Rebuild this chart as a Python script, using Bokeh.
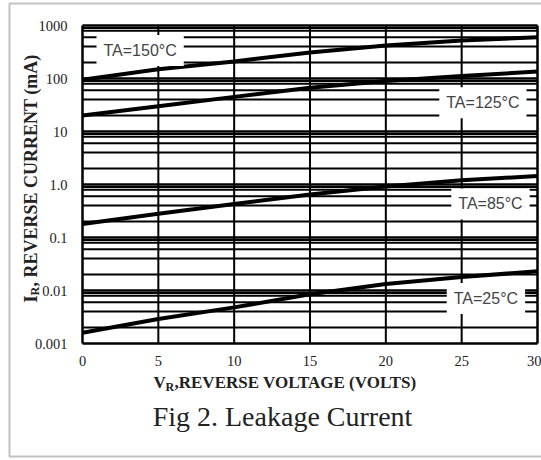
import math
from bokeh.plotting import figure
from bokeh.models import FixedTicker, Label, Range1d, BoxAnnotation
from bokeh.embed import file_html
from bokeh.resources import INLINE

# ---- data ----
volts = [0, 5, 10, 15, 20, 25, 30]
i_150 = [95, 150, 210, 310, 420, 520, 600]
i_125 = [20, 30, 45, 67, 90, 112, 135]
i_85 = [0.18, 0.28, 0.43, 0.65, 0.92, 1.2, 1.45]
i_25 = [0.0016, 0.0029, 0.0048, 0.0085, 0.0133, 0.018, 0.023]

x_ticks = [0, 5, 10, 15, 20, 25, 30]
y_ticks = [0.001, 0.01, 0.1, 1, 10, 100, 1000]
y_tick_labels = ["0.001", "0.01", "0.1", "1.0", "10", "100", "1000"]
minor_mult = [2, 4, 6, 8, 9]

curve_labels = ["TA=150°C", "TA=125°C", "TA=85°C", "TA=25°C"]
label_v = [3.8, 26.4, 26.9, 26.6]
label_i = [337, 35, 0.43, 0.0071]

# ---- layout (pixels) ----
W, H = 541, 460
CH_L, CH_R, CH_T, CH_B = 82, 537, 25, 343

x0, x1 = x_ticks[0], x_ticks[-1]
ppu = (CH_R - CH_L) / (x1 - x0)
ly0, ly1 = math.log10(y_ticks[0]), math.log10(y_ticks[-1])
ppd = (CH_B - CH_T) / (ly1 - ly0)
x_range = Range1d(x0 - CH_L / ppu, x1 + (W - CH_R) / ppu)
y_range = Range1d(10 ** (ly0 - (H - CH_B) / ppd), 10 ** (ly1 + CH_T / ppd))

minor_ticks = [d * m for d in y_ticks[:-1] for m in minor_mult]

p = figure(width=W, height=H, x_range=x_range, y_range=y_range,
           y_axis_type="log", output_backend="svg", toolbar_location=None,
           min_border=0)
p.outline_line_color = None
p.xgrid.visible = False
p.ygrid.visible = False

# grid lines drawn from the tick arrays
p.segment(x0=x0, x1=x1, y0=minor_ticks, y1=minor_ticks,
          line_color="black", line_width=2)
p.segment(x0=x0, x1=x1, y0=y_ticks, y1=y_ticks,
          line_color="black", line_width=2.5)
v_width = [2.5 if v in (x0, x1) else 2 for v in x_ticks]
p.segment(x0=x_ticks, x1=x_ticks, y0=y_ticks[0], y1=y_ticks[-1],
          line_color="black", line_width=v_width)

# axes placed at the chart edges
for ax in (p.xaxis, p.yaxis):
    ax.axis_line_color = None
    ax.major_tick_line_color = None
    ax.minor_tick_line_color = None
    ax.major_label_text_font = "Liberation Serif"
    ax.major_label_text_font_size = "14.5px"
    ax.major_label_text_color = "#222222"
p.xaxis.fixed_location = y_ticks[0]
p.xaxis.ticker = FixedTicker(ticks=x_ticks)
p.xaxis.major_label_standoff = 6
p.yaxis.fixed_location = x0
p.yaxis.ticker = FixedTicker(ticks=y_ticks)
p.yaxis.major_label_overrides = {t: s for t, s in zip(y_ticks, y_tick_labels)}
p.yaxis.major_label_standoff = 9

# curves
for series in (i_150, i_125, i_85, i_25):
    p.line(volts, series, line_width=4, line_color="black")

# curve labels
for txt, vx, iy in zip(curve_labels, label_v, label_i):
    p.add_layout(Label(x=vx, y=iy, text=txt, text_align="center",
                       text_baseline="middle", text_font="Liberation Sans",
                       text_font_size="16px", text_color="#444444",
                       background_fill_color="white", padding=7))

serif = "Liberation Serif"
def sl(x, y, text, size, **kw):
    # x, y in page pixels from the top-left corner
    p.add_layout(Label(x=x, y=H - y, x_units="screen", y_units="screen",
                       text=text, text_font=serif, text_font_size=size,
                       text_color="#222222", **kw))

ang = math.pi / 2
sl(30, 302, "I", "18px", angle=ang, text_font_style="bold", text_baseline="alphabetic")
sl(34, 295, "R", "12px", angle=ang, text_font_style="bold", text_baseline="alphabetic")
sl(30, 286, ", REVERSE CURRENT (mA)", "18px", angle=ang, text_font_style="bold",
   text_baseline="alphabetic")

sl(153, 382, "V", "17px", text_font_style="bold", text_baseline="alphabetic")
sl(165, 386, "R", "12px", text_font_style="bold", text_baseline="alphabetic")
sl(174, 382, ",REVERSE VOLTAGE (VOLTS)", "17px", text_font_style="bold",
   text_baseline="alphabetic")

sl(282, 416, "Fig 2. Leakage Current", "28px", text_align="center",
   text_baseline="middle")

# outer frame of the figure panel
p.add_layout(BoxAnnotation(left=9, right=W + 20, top=H - 3, bottom=H - 456,
                           left_units="screen", right_units="screen",
                           top_units="screen", bottom_units="screen",
                           fill_alpha=0, line_color="#333333", line_width=2))

open("out.html", "w").write(file_html(p, INLINE))
